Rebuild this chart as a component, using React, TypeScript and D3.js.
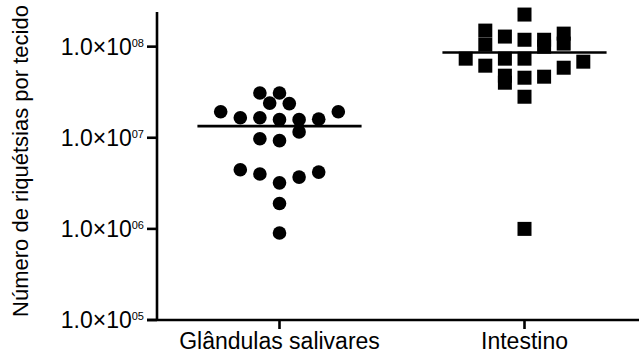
import React from "react";
import * as d3 from "d3";

// groups on the x axis
const groups = ["Glândulas salivares", "Intestino"];

// salivary glands: values and the scatter column each dot sits in
const salivaryValues = [
  3.1e7, 3.1e7, 2.4e7, 2.37e7, 1.93e7, 1.66e7, 1.66e7, 1.58e7, 1.58e7, 1.6e7,
  1.93e7, 1.16e7, 9.75e6, 9.3e6, 4.45e6, 4.0e6, 3.2e6, 3.7e6, 4.2e6, 1.9e6, 9.0e5,
];
const salivaryCols = [-1, 0, -0.5, 0.5, -3, -2, -1, 0, 1, 2, 3, 1, -1, 0, -2, -1, 0, 1, 2, 0, 0];

// intestine
const intestineValues = [
  7.38e7, 1.5e8, 1.05e8, 6.18e7, 1.29e8, 7.38e7, 4.8e7, 4.02e7, 2.25e8, 1.19e8,
  7.38e7, 4.56e7, 2.82e7, 1.19e8, 1.0e8, 4.68e7, 1.39e8, 1.08e8, 5.87e7, 6.84e7, 1.0e6,
];
const intestineCols = [-3, -2, -2, -2, -1, -1, -1, -1, 0, 0, 0, 0, 0, 1, 1, 1, 2, 2, 2, 3, 0];

const yTicks = [1e5, 1e6, 1e7, 1e8];
const yMin = 1e5;
const yMax = 2.4e8;

const W = 639;
const H = 354;
const FONT = "'Liberation Sans', Arial, sans-serif";

export default function App() {
  const y = d3.scaleLog().domain([yMin, yMax]).range([320, 12]);
  const x = d3.scalePoint<string>().domain(groups).range([157, 647]).padding(0.5);
  const colStep = x.step() * 0.08;
  const halfMean = x.step() * 0.335;
  const x0 = x.range()[0];

  const series = [
    { g: groups[0], values: salivaryValues, cols: salivaryCols, shape: "circle" },
    { g: groups[1], values: intestineValues, cols: intestineCols, shape: "square" },
  ];

  const sq = 14;

  return (
    <svg
      width={W}
      height={H}
      style={{ position: "absolute", left: 0, top: 0, background: "#fff" }}
      fontFamily={FONT}
    >
      {/* y axis */}
      <line x1={x0} x2={x0} y1={y(yMax)} y2={y(yMin)} stroke="#000" strokeWidth={2.6} />
      {yTicks.map((t) => (
        <g key={t}>
          <line x1={x0 - 10} x2={x0} y1={y(t)} y2={y(t)} stroke="#000" strokeWidth={2.6} />
          <text x={x0 - 13} y={y(t) + 8} textAnchor="end" fontSize={23} fill="#000">
            <tspan>1.0×10</tspan>
            <tspan dy={-8} fontSize={11}>
              {d3.format("02d")(Math.round(Math.log10(t)))}
            </tspan>
          </text>
        </g>
      ))}
      <text
        transform={`translate(28, ${(y(yMax) + y(yMin)) / 2 - 5}) rotate(-90)`}
        textAnchor="middle"
        fontSize={22}
        fill="#000"
      >
        Número de riquétsias por tecido
      </text>

      {/* x axis */}
      <line x1={x0 - 10} x2={W} y1={y(yMin)} y2={y(yMin)} stroke="#000" strokeWidth={2.6} />
      {groups.map((g) => (
        <g key={g}>
          <line x1={x(g)} x2={x(g)} y1={y(yMin)} y2={y(yMin) + 9} stroke="#000" strokeWidth={2.6} />
          <text x={x(g)} y={y(yMin) + 29} textAnchor="middle" fontSize={23} fill="#000">
            {g}
          </text>
        </g>
      ))}

      {/* points and means */}
      {series.map((s) => {
        const cx = x(s.g) as number;
        const m = d3.mean(s.values) as number;
        return (
          <g key={s.g}>
            {s.values.map((v, i) =>
              s.shape === "circle" ? (
                <circle key={i} cx={cx + s.cols[i] * colStep} cy={y(v)} r={6.8} fill="#000" />
              ) : (
                <rect
                  key={i}
                  x={cx + s.cols[i] * colStep - sq / 2}
                  y={y(v) - sq / 2}
                  width={sq}
                  height={sq}
                  fill="#000"
                />
              )
            )}
            <line
              x1={cx - halfMean}
              x2={cx + halfMean}
              y1={y(m)}
              y2={y(m)}
              stroke="#000"
              strokeWidth={2.6}
            />
          </g>
        );
      })}
    </svg>
  );
}
